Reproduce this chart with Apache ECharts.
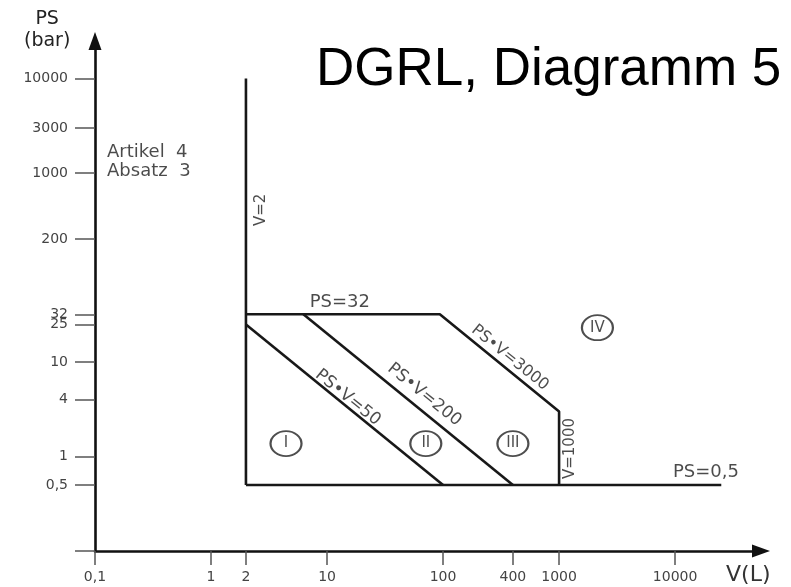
<!DOCTYPE html>
<html>
<head>
<meta charset="utf-8">
<script src="https://cdn.jsdelivr.net/npm/echarts@6/dist/echarts.min.js"></script>
<style>
  html, body { margin: 0; padding: 0; background: #fff; }
  #chart { width: 791px; height: 587px; }
</style>
</head>
<body>
<div id="chart"></div>
<script>
// ---- data ----
const X_MIN = 0.1, X_MAX = 55000;
const Y_MIN = 0.1, Y_MAX = 25000;

const xTickValues = [0.1, 1, 2, 10, 100, 400, 1000, 10000];
const xTickLabels = ['0,1', '1', '2', '10', '100', '400', '1000', '10000'];
const yTickValues = [0.1, 0.5, 1, 4, 10, 25, 32, 200, 1000, 3000, 10000];
const yTickLabels = ['', '0,5', '1', '4', '10', '25', '32', '200', '1000', '3000', '10000'];

// boundary lines [V (L), PS (bar)]
const lineV2 = [[2, 0.5], [2, 10000]];
const linePS05 = [[2, 0.5], [25000, 0.5]];
const lineOuter = [[2, 32], [93.75, 32], [1000, 3], [1000, 0.5]];
const linePV50 = [[2, 25], [100, 0.5]];
const linePV200 = [[6.25, 32], [400, 0.5]];

// category markers
const categoryNames = ['I', 'II', 'III', 'IV'];
const categoryPos = [[4.43, 1.37], [71, 1.37], [400, 1.37], [2140, 23.1]];

// line annotations
const lineLabelTexts = ['V=2', 'V=1000', 'PS=32', 'PS=0,5', 'PS\u2022V=50', 'PS\u2022V=200', 'PS\u2022V=3000'];
const lineLabelPos = [[2.68, 408], [1233, 1.215], [12.9, 42.5], [18450, 0.677], [15.1, 4.2], [69, 4.5], [377, 11.1]];

const noteText = 'Artikel  4\nAbsatz  3';
const notePos = [0.127, 1313];

// ---- styles ----
const lineLabelRotate = [90, 90, 0, 0, -39, -39, -39];
const lineLabelSize = [15, 15, 18, 18, 17, 17, 16];
const FONT = 'DejaVu Sans';
const LINE_COLOR = '#181818';

const log10 = Math.log10;
const xTickLogs = xTickValues.map(v => log10(v));
const yTickLogs = yTickValues.map(v => log10(v));
function labelFor(logs, labels) {
  return function (v) {
    for (let i = 0; i < logs.length; i++) {
      if (Math.abs(logs[i] - v) < 1e-6) return labels[i];
    }
    return '';
  };
}

function lineSeries(data) {
  return {
    type: 'line', xAxisIndex: 0, yAxisIndex: 0, data: data,
    symbol: 'none', silent: true, animation: false,
    lineStyle: { color: LINE_COLOR, width: 2.6 }, z: 3
  };
}

const chart = echarts.init(document.getElementById('chart'));
chart.setOption({
  animation: false,
  backgroundColor: '#fff',
  title: {
    text: 'DGRL, Diagramm 5', left: 311, top: 39,
    textStyle: { fontFamily: 'Liberation Sans', fontSize: 53, fontWeight: 'normal', color: '#000' }
  },
  grid: { left: 95, right: 30, top: 41, bottom: 36 },
  xAxis: [
    {
      type: 'log', logBase: 10, min: X_MIN, max: X_MAX, position: 'bottom',
      axisLine: { show: true, onZero: false, symbol: ['none', 'triangle'], symbolSize: [13, 18],
        lineStyle: { color: '#111', width: 2.6 } },
      axisTick: { show: false }, axisLabel: { show: false }, splitLine: { show: false }
    },
    {
      type: 'value', min: log10(X_MIN), max: log10(X_MAX), position: 'bottom', offset: 0,
      axisLine: { show: false, onZero: false }, splitLine: { show: false },
      axisTick: { show: true, customValues: xTickLogs, length: 14, lineStyle: { color: '#555', width: 1.5 } },
      axisLabel: { show: true, customValues: xTickLogs, formatter: labelFor(xTickLogs, xTickLabels),
        margin: 19, hideOverlap: false, color: '#444', fontFamily: FONT, fontSize: 14 }
    }
  ],
  yAxis: [
    {
      type: 'log', logBase: 10, min: Y_MIN, max: Y_MAX, position: 'left',
      axisLine: { show: true, onZero: false, symbol: ['none', 'triangle'], symbolSize: [13, 18],
        lineStyle: { color: '#111', width: 2.6 } },
      axisTick: { show: false }, axisLabel: { show: false }, splitLine: { show: false }
    },
    {
      type: 'value', min: log10(Y_MIN), max: log10(Y_MAX), position: 'left', offset: 0,
      axisLine: { show: false, onZero: false }, splitLine: { show: false },
      axisTick: { show: true, customValues: yTickLogs, length: 20, lineStyle: { color: '#555', width: 1.5 } },
      axisLabel: { show: true, customValues: yTickLogs, formatter: labelFor(yTickLogs, yTickLabels),
        margin: 27, hideOverlap: false, color: '#444', fontFamily: FONT, fontSize: 14 }
    }
  ],
  graphic: [
    { type: 'text', left: 24, top: 8, style: { text: 'PS\n(bar)', fill: '#222', font: '19px "DejaVu Sans"', textAlign: 'center', lineHeight: 22 } },
    { type: 'text', left: 726, top: 564, style: { text: 'V(L)', fill: '#333', font: '22px "DejaVu Sans"' } }
  ],
  series: [
    lineSeries(lineV2),
    lineSeries(linePS05),
    lineSeries(lineOuter),
    lineSeries(linePV50),
    lineSeries(linePV200),
    {
      type: 'scatter', xAxisIndex: 0, yAxisIndex: 0, silent: true, animation: false, z: 4,
      symbol: 'path://M0,10 A10,10 0 1,1 20,10 A10,10 0 1,1 0,10 Z',
      symbolSize: [31, 25],
      itemStyle: { color: 'rgba(0,0,0,0)', borderColor: '#222', borderWidth: 2 },
      data: categoryPos.map((p, i) => ({ value: p, name: categoryNames[i] })),
      label: { show: true, position: 'inside', formatter: '{b}', color: '#222', fontFamily: FONT, fontSize: 15 }
    },
    {
      type: 'scatter', xAxisIndex: 0, yAxisIndex: 0, silent: true, animation: false, z: 5,
      symbolSize: 0,
      data: lineLabelPos.map((p, i) => ({
        value: p,
        label: { formatter: lineLabelTexts[i], rotate: lineLabelRotate[i], fontSize: lineLabelSize[i] }
      })),
      label: { show: true, position: 'inside', color: '#1e1e1e', fontFamily: FONT }
    },
    {
      type: 'scatter', xAxisIndex: 0, yAxisIndex: 0, silent: true, animation: false, z: 5,
      symbolSize: 0,
      data: [{ value: notePos }],
      label: { show: true, position: 'inside', align: 'left', verticalAlign: 'middle', formatter: noteText,
        color: '#1e1e1e', fontFamily: FONT, fontSize: 18, lineHeight: 19 }
    }
  ]
});
</script>
</body>
</html>
